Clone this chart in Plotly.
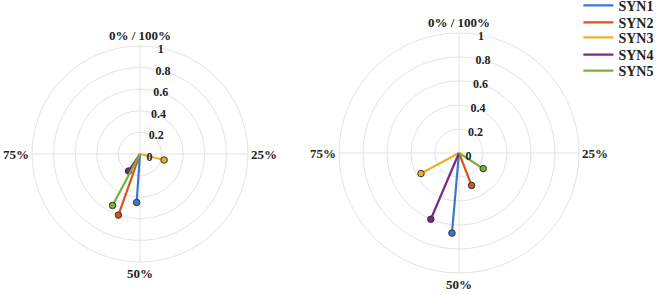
import plotly.graph_objects as go

series = ["SYN1", "SYN2", "SYN3", "SYN4", "SYN5"]
colors = ["#3a78cf", "#d6541c", "#e9b12c", "#772a8b", "#79b03c"]

# phase (% of cycle) and magnitude, left panel
phase_left = [51.1, 55.4, 28.9, 59.4, 57.8]
mag_left = [0.45, 0.60, 0.23, 0.19, 0.54]
# right panel
phase_right = [51.4, 44.1, 67.1, 56.4, 34.1]
mag_right = [0.67, 0.29, 0.36, 0.60, 0.24]

angle_ticks = [0, 90, 180, 270]
angle_ticktext = ["0% / 100%", "25%", "50%", "75%"]
radial_ticks = [0, 0.2, 0.4, 0.6, 0.8, 1]
radial_ticktext = ["0", "0.2", "0.4", "0.6", "0.8", "1"]

FONT = "Liberation Serif"
TXT = "#222222"
GRID = "#e3e3e3"
W, H = 658, 295

legend_centers = [5.7, 22.7, 37.7, 55.0, 71.0]  # px from top

fig = go.Figure()
for k, (phases, mags, sub) in enumerate([(phase_left, mag_left, "polar"), (phase_right, mag_right, "polar2")]):
    for i, name in enumerate(series):
        th = phases[i] * 3.6
        lg = "legend" if i == 0 else f"legend{i + 1}"
        fig.add_trace(go.Scatterpolar(
            r=[0, mags[i]], theta=[0, th], mode="lines", name=name,
            line=dict(color=colors[i], width=2.2), subplot=sub,
            legend=lg, showlegend=(k == 1)))
        fig.add_trace(go.Scatterpolar(
            r=[mags[i]], theta=[th], mode="markers", subplot=sub,
            marker=dict(color=colors[i], size=6.5, line=dict(color="#333333", width=1)),
            legend=lg, showlegend=False))

def polar_layout(xd, yd):
    return dict(
        domain=dict(x=xd, y=yd),
        bgcolor="white",
        angularaxis=dict(
            rotation=90, direction="clockwise",
            tickmode="array", tickvals=angle_ticks, ticktext=angle_ticktext,
            showgrid=True, gridcolor=GRID, gridwidth=1,
            showline=True, linecolor=GRID, linewidth=1,
            ticks="", tickfont=dict(family=FONT, size=13, color=TXT, weight="bold"),
        ),
        radialaxis=dict(
            range=[0, 1], tickmode="array", tickvals=radial_ticks, ticktext=radial_ticktext,
            angle=84, tickangle=84, showline=False, ticks="",
            showgrid=True, gridcolor=GRID, gridwidth=1,
            tickfont=dict(family=FONT, size=12, color=TXT, weight="bold"),
        ),
    )

layout = dict(
    width=W, height=H,
    font=dict(family=FONT, color=TXT),
    margin=dict(l=0, r=0, t=0, b=0, autoexpand=False),
    paper_bgcolor="white", plot_bgcolor="white",
    polar=polar_layout([(140 - 108) / W, (140 + 108) / W], [1 - (154 + 108) / H, 1 - (154 - 108) / H]),
    polar2=polar_layout([(459 - 120) / W, (459 + 120) / W], [1 - (153 + 120) / H, 1 - (153 - 120) / H]),
)
for i, yc in enumerate(legend_centers):
    key = "legend" if i == 0 else f"legend{i + 1}"
    layout[key] = dict(x=0.879, y=1 - yc / H, xanchor="left", yanchor="middle",
                       font=dict(family=FONT, size=14, color=TXT, weight="bold"),
                       itemwidth=30, bgcolor="rgba(0,0,0,0)", borderwidth=0)
fig.update_layout(**layout)

fig.write_html("out.html")
